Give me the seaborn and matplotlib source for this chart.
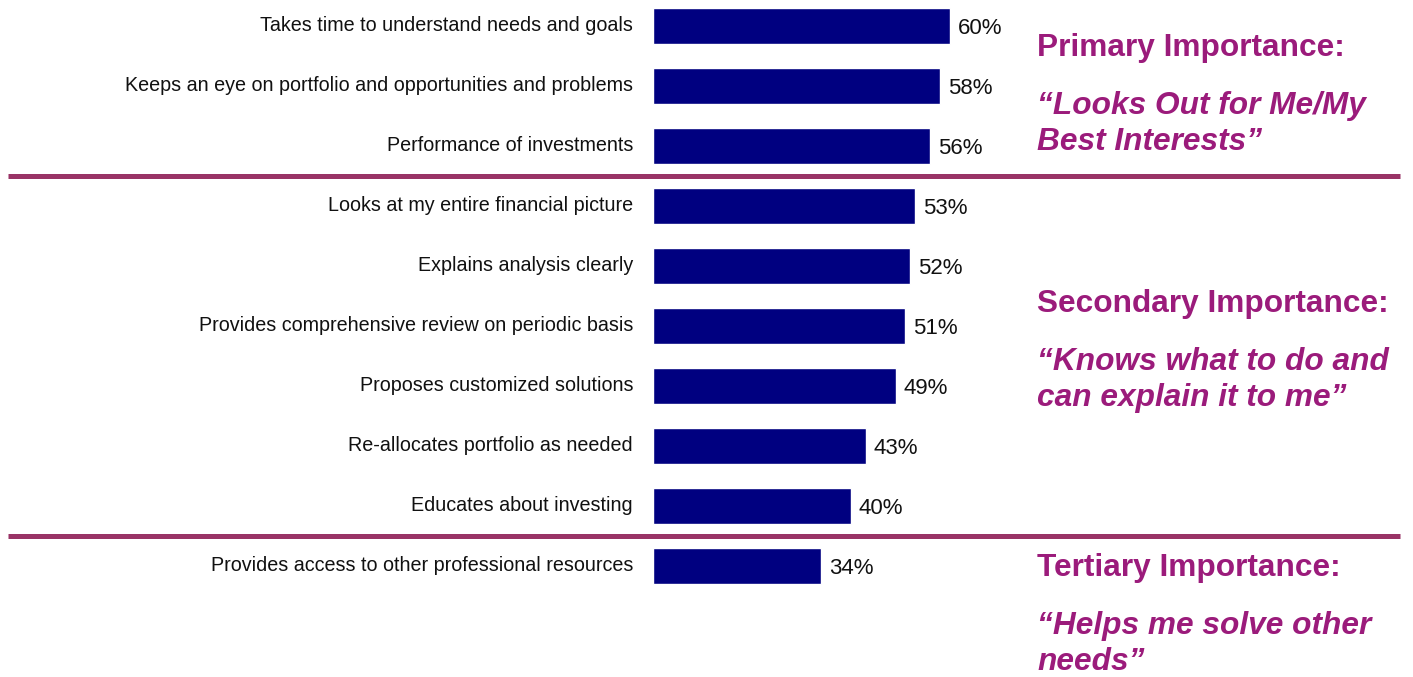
import matplotlib
matplotlib.use("Agg")
import matplotlib.pyplot as plt
import matplotlib.transforms as mtransforms
from matplotlib.lines import Line2D
import seaborn as sns
import pandas as pd

categories = [
    "Takes time to understand needs and goals",
    "Keeps an eye on portfolio and opportunities and problems",
    "Performance of investments",
    "Looks at my entire financial picture",
    "Explains analysis clearly",
    "Provides comprehensive review on periodic basis",
    "Proposes customized solutions",
    "Re-allocates portfolio as needed",
    "Educates about investing",
    "Provides access to other professional resources",
]
values = [60, 58, 56, 53, 52, 51, 49, 43, 40, 34]
value_labels = [f"{v}%" for v in values]

group_titles = ["Primary Importance:", "Secondary Importance:", "Tertiary Importance:"]
group_quotes = [
    ["\u201cLooks Out for Me/My", "Best Interests\u201d"],
    ["\u201cKnows what to do and", "can explain it to me\u201d"],
    ["\u201cHelps me solve other", "needs\u201d"],
]
group_breaks = [2.5, 8.5]

sns.set_style("white")
plt.rcParams["font.family"] = ["Liberation Sans", "DejaVu Sans"]

W, H = 1413, 677
fig = plt.figure(figsize=(W / 100, H / 100), dpi=100)
ax = fig.add_axes([653 / W, 0, 346.5 / W, 1])

df = pd.DataFrame({"category": categories, "value": values})
sns.barplot(data=df, x="value", y="category", orient="h", color="#000080",
            saturation=1, width=0.6, ax=ax)

ax.set_xlim(0, 70)
ax.set_ylim(10.85, -0.4333)
ax.set_xlabel("")
ax.set_ylabel("")
ax.set_xticks([])
for s in ax.spines.values():
    s.set_visible(False)
ax.tick_params(axis="y", length=0, pad=14.4)
shift = mtransforms.ScaledTranslation(0, 2 / 72, fig.dpi_scale_trans)
for lab in ax.get_yticklabels():
    lab.set_fontsize(14.2)
    lab.set_color("#111111")
    lab.set_transform(lab.get_transform() + shift)

for i, (v, lab) in enumerate(zip(values, value_labels)):
    ax.annotate(lab, xy=(v, i), xytext=(5.5, -1.5), textcoords="offset points",
                ha="left", va="center", fontsize=16, color="#111111")

# group separator lines spanning figure width
trans = mtransforms.blended_transform_factory(fig.transFigure, ax.transData)
for yb in group_breaks:
    fig.add_artist(Line2D([8 / W, 1400 / W], [yb, yb], transform=trans,
                          color="#993366", linewidth=3.6, solid_capstyle="butt"))

text_color = "#9B1B7B"
baselines = [56, 312, 576]
for title, quote, b in zip(group_titles, group_quotes, baselines):
    fig.text(1037 / W, 1 - b / H, title, fontsize=22.8, fontweight="bold",
             color=text_color, va="baseline", ha="left")
    for k, line in enumerate(quote):
        fig.text(1037 / W, 1 - (b + 58 + 36 * k) / H, line, fontsize=22.8,
                 fontweight="bold", fontstyle="italic", color=text_color,
                 va="baseline", ha="left")

fig.savefig("out.png", dpi=100)
